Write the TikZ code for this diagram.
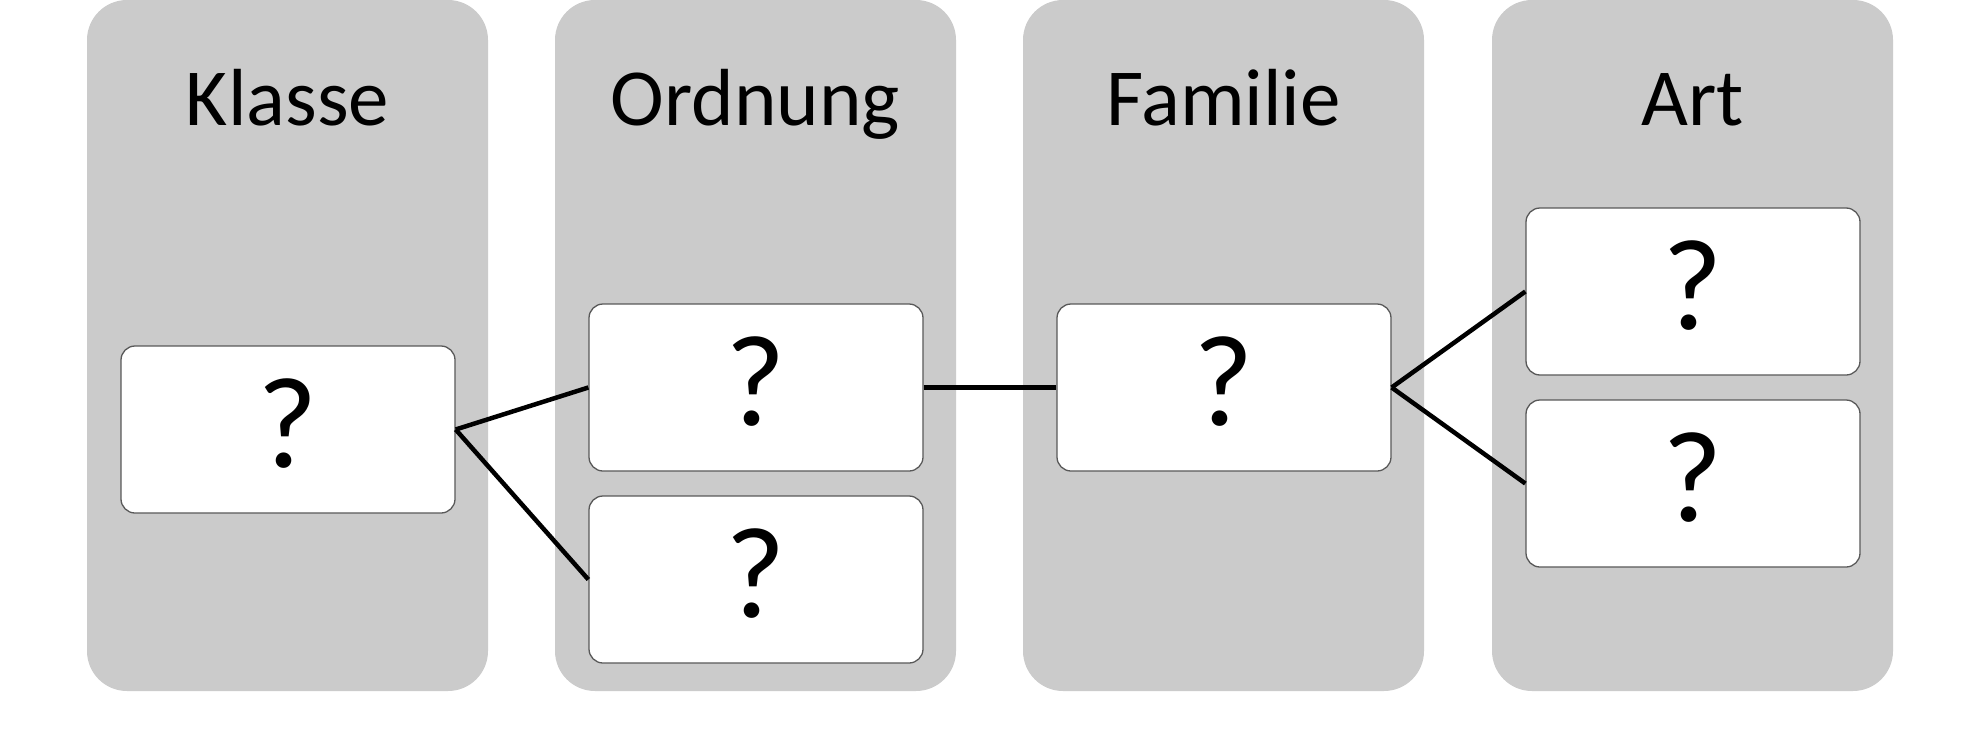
\documentclass[tikz,border=0pt]{standalone}
\usepackage{fontspec}
\setmainfont{Carlito}
\definecolor{panelgray}{HTML}{CBCBCB}
\definecolor{boxline}{HTML}{595959}
\begin{document}
\begin{tikzpicture}[x=1pt,y=-1pt,
  panel/.style={fill=panelgray, draw=none, rounded corners=40pt, minimum width=401pt, minimum height=691pt, inner sep=0pt},
  title/.style={anchor=base, font=\fontsize{81}{97}\selectfont, inner sep=0pt},
  qbox/.style={fill=white, draw=boxline, line width=1.3pt, rounded corners=14pt, minimum width=334pt, minimum height=167pt, inner sep=0pt, font=\fontsize{130}{156}\selectfont, text depth=13pt},
  link/.style={line width=4.5pt, draw=black}]
\useasboundingbox (0,0) rectangle (1980,728);
% panels
\node[panel] (pK) at (287.5,345.5) {};
\node[panel] (pO) at (755.5,345.5) {};
\node[panel] (pF) at (1223.5,345.5) {};
\node[panel] (pA) at (1692.5,345.5) {};
% titles
\node[title] (tK) at (287.5,125) {Klasse};
\node[title] (tO) at (755.5,125) {Ordnung};
\node[title] (tF) at (1223.5,125) {Familie};
\node[title] (tA) at (1692.5,125) {Art};
% boxes
\node[qbox] (K)  at (288,429.5) {?};
\node[qbox] (O1) at (756,387.5) {?};
\node[qbox] (O2) at (756,579.5) {?};
\node[qbox] (F)  at (1224,387.5) {?};
\node[qbox] (A1) at (1693,291.5) {?};
\node[qbox] (A2) at (1693,483.5) {?};
% connectors
\draw[link] (K.east) -- (O1.west);
\draw[link] (K.east) -- (O2.west);
\draw[link] (O1.east) -- (F.west);
\draw[link] (F.east) -- (A1.west);
\draw[link] (F.east) -- (A2.west);
\end{tikzpicture}
\end{document}
